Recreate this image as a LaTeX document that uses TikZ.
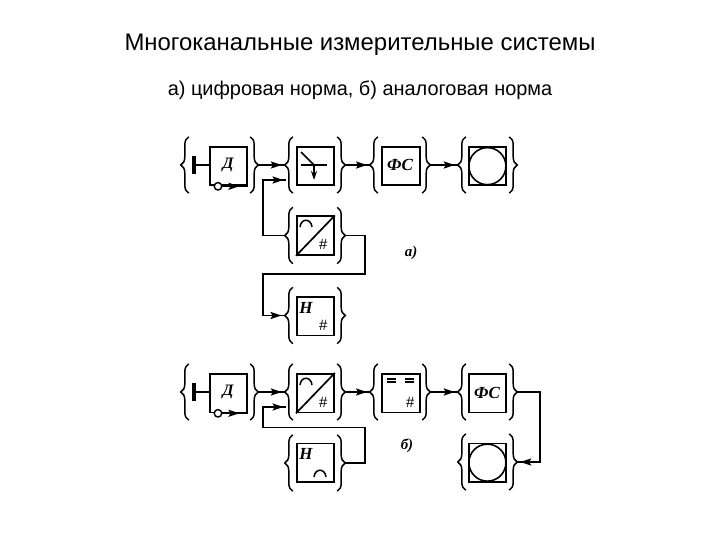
\documentclass[tikz,border=0pt]{standalone}
\usepackage{fontspec}
\setmainfont{Liberation Sans}
\newfontfamily\serifbi{Liberation Serif Bold Italic}
\usetikzlibrary{decorations.pathreplacing,decorations.markings,arrows.meta}
\tikzset{
  ln/.style={line width=1.7pt,black},
  blk/.style={draw=black,line width=1.8pt,minimum width=37bp,minimum height=38.5bp,inner sep=0pt,anchor=north west},
  grp/.style={minimum width=#1,minimum height=56bp,inner sep=0pt},
  grp/.default=60bp,
  conn/.style={ln,postaction={decorate},decoration={markings,mark=at position #1 with {\arrow{Stealth[length=11bp,width=7bp,inset=2bp]}}}},
  conn/.default=0.89,
  thinl/.style={line width=1.5pt},
  lit/.style={font=\serifbi\fontsize{16}{16}\selectfont,inner sep=0pt},
  hash/.style={font=\fontsize{15}{15}\selectfont\itshape,inner sep=0pt},
  tag/.style={font=\serifbi\fontsize{15}{15}\selectfont,inner sep=0pt},
}
\newcommand{\grpbraces}[1]{%
  \draw[line width=1.5pt,decorate,decoration={brace,amplitude=8bp,aspect=.5}] ([xshift=8bp]#1.south west) -- ([xshift=8bp]#1.north west);
  \draw[line width=1.5pt,decorate,decoration={brace,amplitude=8bp,aspect=.5}] ([xshift=-8bp]#1.north east) -- ([xshift=-8bp]#1.south east);
}
\begin{document}
\begin{tikzpicture}[x=1bp,y=-1bp]
\useasboundingbox[fill=white] (0,0) rectangle (720,540);
\node[inner sep=0pt,font=\fontsize{24}{26}\selectfont] (title) at (360,45) {Многоканальные измерительные системы};
\node[inner sep=0pt,font=\fontsize{20}{22}\selectfont] (subtitle) at (360,90) {а) цифровая норма, б) аналоговая норма};

% --- scheme a ---
\node[grp=77bp] (ga1) at (219.5,165) {};
\node[grp=60bp] (ga2) at (315,165) {};
\node[grp=60bp] (ga3) at (400,165) {};
\node[grp=59bp] (ga4) at (487.5,165) {};
\node[grp=60bp] (ga5) at (315,235.5) {};
\node[grp=60bp] (ga6) at (315,315.5) {};
\foreach \g in {ga1,ga2,ga3,ga4,ga5,ga6}{\grpbraces{\g}}

\node[blk] (ad) at (209,146) {};
\node[blk] (asw) at (296,146) {};
\node[blk,minimum width=38bp] (afs) at (381,146) {};
\node[blk] (adisp) at (468,146) {};
\node[blk] (aadc) at (296,215.5) {};
\node[blk] (an) at (296,296) {};

\node[lit] (adl) at (228,165) {Д};
\node[lit,font=\serifbi\fontsize{17}{17}\selectfont] (afsl) at (400,165) {ФС};
\node[lit,font=\serifbi\fontsize{17}{17}\selectfont] (anl) at (306,308) {Н};
\node[hash] (anh) at (323,325) {\#};
\node[hash] (aah) at (323,244) {\#};
\node[tag] (ata) at (411,253) {а)};

\node[draw,circle,line width=1.6pt,minimum size=37bp,inner sep=0pt] (acirc) at (adisp.center) {};
\draw[ln] (aadc.south west) -- (aadc.north east);
\draw[thinl] (300,227) .. controls (301,218) and (311,218) .. (312,227);
\coordinate (abar) at (194,165.25);
\draw[line width=3.2pt] (194,156) -- (194,174);
\draw[ln] (abar) -- (abar -| ad.west);
\coordinate (aswa) at (301,152); \coordinate (aswb) at (314,165);
\coordinate (aswc) at (301,165); \coordinate (aswd) at (327,165);
\coordinate (aswe) at (314,180);
\draw[thinl] (aswa) -- (aswb);
\draw[thinl] (aswc) -- (aswd);
\draw[thinl,-{Stealth[length=9bp,width=6bp]}] (aswb) -- (aswe);
\coordinate (adm) at (218,0 |- ad.south);
\draw[conn=0.72] (adm) -- (ad.south east);
\node[draw,circle,fill=white,line width=1.4pt,minimum size=7.5bp,inner sep=0pt] (ao) at (adm) {};

\draw[conn] (ga1.east) -- (ga2.west);
\draw[conn] (ga2.east) -- (ga3.west);
\draw[conn] (ga3.east) -- (ga4.west);
\coordinate (ain) at (286,180);
\coordinate (ac1) at (263,235.5);
\draw[ln] (ga5.west) -- (ac1) -- (263,180) -- (ain);
\draw[conn=0.85] (270,180) -- (ain);
\coordinate (ac2) at (365,235.5);
\draw[ln] (ga5.east) -- (ac2) -- (365,274) -- (263,274) -- (263,315.5) -- (ga6.west);
\draw[conn=0.85] (263,315.5) -- (ga6.west);

% --- scheme b ---
\node[grp=77bp] (gb1) at (219.5,392) {};
\node[grp=60bp] (gb2) at (315,392) {};
\node[grp=60bp] (gb3) at (400,392) {};
\node[grp=59bp] (gb4) at (487.5,392) {};
\node[grp=59bp] (gb5) at (487.5,462) {};
\node[grp=60bp] (gb6) at (315,463) {};
\foreach \g in {gb1,gb2,gb3,gb4,gb5,gb6}{\grpbraces{\g}}

\node[blk] (bd) at (209,373) {};
\node[blk] (badc) at (296,373) {};
\node[blk,minimum width=38bp] (beq) at (381,373) {};
\node[blk] (bfs) at (468,373) {};
\node[blk] (bdisp) at (468,442.5) {};
\node[blk] (bn) at (296,442.5) {};

\node[lit] (bdl) at (228,392) {Д};
\node[lit,font=\serifbi\fontsize{17}{17}\selectfont] (bfsl) at (487,393) {ФС};
\node[lit,font=\serifbi\fontsize{17}{17}\selectfont] (bnl) at (306,454) {Н};
\node[hash] (bah) at (323,402) {\#};
\node[hash] (beh) at (410,402) {\#};
\node[tag] (btb) at (407,446) {б)};
\node[draw,circle,line width=1.6pt,minimum size=37bp,inner sep=0pt] (bcirc) at (bdisp.center) {};
\draw[ln] (badc.south west) -- (badc.north east);
\draw[thinl] (300,385) .. controls (301,376) and (311,376) .. (312,385);
\draw[thinl] (314,477) .. controls (315,468) and (325,468) .. (326,477);
\draw[line width=1.1pt] (387,379) -- (396,379) (387,382) -- (396,382) (405,379) -- (414,379) (405,382) -- (414,382);
\coordinate (bbar) at (194,392.25);
\draw[line width=3.2pt] (194,383) -- (194,401);
\draw[ln] (bbar) -- (bbar -| bd.west);
\coordinate (bdm) at (218,0 |- bd.south);
\draw[conn=0.72] (bdm) -- (bd.south east);
\node[draw,circle,fill=white,line width=1.4pt,minimum size=7.5bp,inner sep=0pt] (bo) at (bdm) {};

\draw[conn] (gb1.east) -- (gb2.west);
\draw[conn] (gb2.east) -- (gb3.west);
\draw[conn] (gb3.east) -- (gb4.west);
\coordinate (bin) at (286,407);
\draw[ln] (gb6.east) -- (365,463) -- (365,427.5) -- (263,427.5) -- (263,407) -- (bin);
\draw[conn=0.85] (270,407) -- (bin);
\coordinate (bret) at (gb5.east);
\draw[ln] (gb4.east) -- (540,392) -- (540,0 |- bret) -- (bret);
\draw[conn=0.87] (540,0 |- bret) -- (bret);
\end{tikzpicture}
\end{document}
